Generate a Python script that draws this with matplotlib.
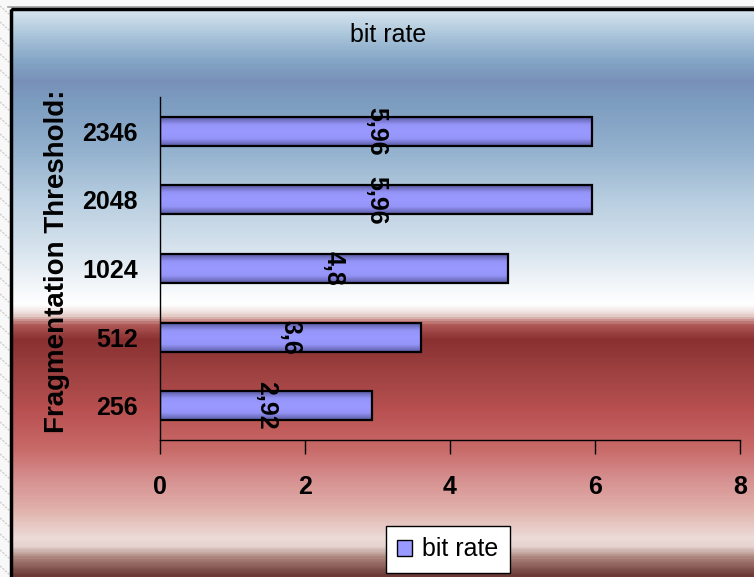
import numpy as np
import matplotlib.pyplot as plt
from matplotlib.colors import LinearSegmentedColormap
from matplotlib.patches import Rectangle, Patch

thresholds = ['256', '512', '1024', '2048', '2346']
bit_rate = [2.92, 3.6, 4.8, 5.96, 5.96]
rate_labels = ['2,92', '3,6', '4,8', '5,96', '5,96']
x_ticks = [0, 2, 4, 6, 8]

plt.rcParams['font.family'] = ['Liberation Sans', 'DejaVu Sans']

W, H = 754, 577
fig = plt.figure(figsize=(W / 100, H / 100), dpi=100)
fig.patch.set_facecolor('#f8f8f8')

# page behind the chart: faint dotted hatching on the left strip
bg = fig.add_axes([0, 0, 1, 1])
bg.set_xlim(0, W)
bg.set_ylim(H, 0)
bg.axis('off')
for y0 in range(-10, H + 20, 16):
    bg.plot([0, 10], [y0, y0 + 9], color='#cfcfcf', lw=1.0, ls=(0, (1.5, 1)))

# chart area gradient: steel blue -> white -> dark red -> pink -> dark
stops = [(0.0, '#d8e6f0'), (0.056, '#a0bdd5'), (0.091, '#84a6c6'), (0.127, '#7890b8'),
         (0.162, '#7c9cc0'), (0.25, '#94b2ce'), (0.337, '#b8cee0'), (0.425, '#d8e4ee'),
         (0.496, '#f6f9fb'), (0.522, '#ffffff'), (0.54, '#e8d4d0'), (0.557, '#b05a58'),
         (0.583, '#8a3030'), (0.636, '#9c4040'), (0.707, '#b85050'), (0.777, '#c86a68'),
         (0.83, '#d69090'), (0.882, '#e0b0aa'), (0.935, '#ecdcd8'), (0.949, '#e4d2ce'),
         (0.97, '#a88078'), (1.0, '#6c3a36')]
bg_cmap = LinearSegmentedColormap.from_list('chartbg', stops)
grad = np.linspace(0, 1, 600).reshape(-1, 1)
bg.imshow(grad, cmap=bg_cmap, extent=(11, W, H, 8), aspect='auto', zorder=1)
bg.plot([8, W], [6.5, 6.5], color='#a0a0a0', lw=1.2, zorder=2)
bg.add_patch(Rectangle((11, 8.5), W + 20, H + 20, fill=False, ec='black', lw=2.5, zorder=3))
bg.set_xlim(0, W)
bg.set_ylim(H, 0)

# bar chart
ax = fig.add_axes([160 / W, 137 / H, 580 / W, 343 / H])
ax.patch.set_alpha(0)
ypos = np.arange(len(thresholds))
bars = ax.barh(ypos, bit_rate, height=0.42, color='none', edgecolor='black', lw=1.6, zorder=3)

bar_cmap = LinearSegmentedColormap.from_list('bar', ['#5c5ca4', '#9494f8', '#9999ff', '#9494f8', '#5c5ca4'])
bar_grad = np.linspace(0, 1, 60).reshape(-1, 1)
for bar, lab in zip(bars, rate_labels):
    x0, y0 = bar.get_x(), bar.get_y()
    w, h = bar.get_width(), bar.get_height()
    ax.imshow(bar_grad, cmap=bar_cmap, extent=(x0, x0 + w, y0, y0 + h), aspect='auto', zorder=2)
    ax.text(x0 + w / 2, y0 + h / 2, lab, rotation=-90, ha='center', va='center',
            fontsize=18, fontweight='bold', zorder=4)

ax.set_xlim(0, 8)
ax.set_ylim(-0.5, len(thresholds) - 0.5)
ax.set_xticks(x_ticks)
ax.set_yticks(ypos)
ax.set_yticklabels(thresholds)
for s in ['top', 'right']:
    ax.spines[s].set_visible(False)
for s in ['left', 'bottom']:
    ax.spines[s].set_linewidth(1.0)
ax.tick_params(axis='x', direction='out', length=10, width=1.0, pad=15, labelsize=18)
ax.tick_params(axis='y', length=0, pad=16, labelsize=18)
for t in ax.get_xticklabels() + ax.get_yticklabels():
    t.set_fontweight('bold')

ax.set_ylabel('Fragmentation Threshold:', fontsize=20, fontweight='bold')
ax.yaxis.label.set_va('center')
ax.yaxis.set_label_coords(-0.178, 0.52)
ax.set_title('bit rate', fontsize=18, x=0.393, y=1.157, va='center')

ax.legend(handles=[Patch(facecolor='#9999ff', edgecolor='black')], labels=['bit rate'],
          loc='center', bbox_to_anchor=(448 / W, 27.5 / H), bbox_transform=fig.transFigure,
          fancybox=False, edgecolor='black', framealpha=1, fontsize=18,
          handlelength=0.6, handleheight=0.6, handletextpad=0.4, borderpad=0.45)

fig.savefig('out.png', dpi=100)
